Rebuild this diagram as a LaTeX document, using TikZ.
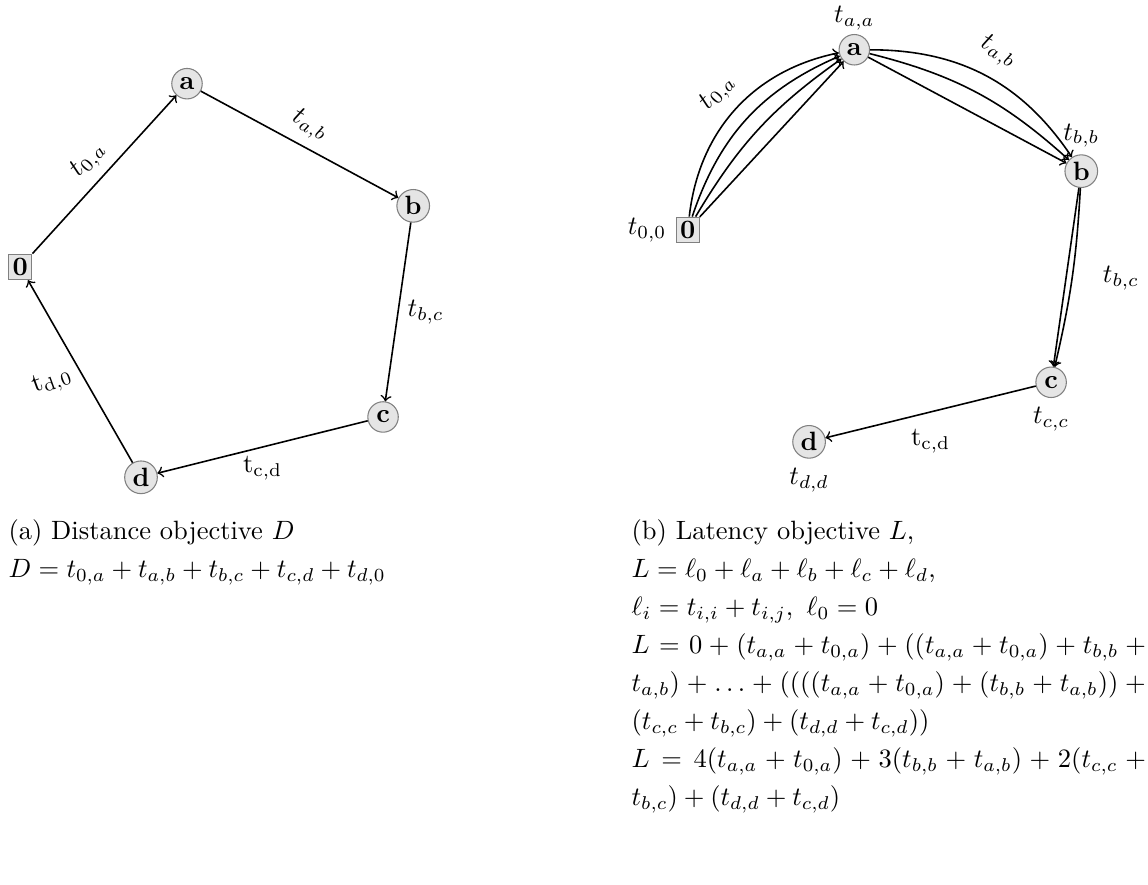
\documentclass[tikz,border=0pt]{standalone}
\usetikzlibrary{positioning}

\begin{document}
\begin{tikzpicture}[
  cust/.style={circle,draw=gray,fill=gray!20,font=\bfseries,inner sep=1pt,minimum size=11.5pt},
  depot/.style={rectangle,draw=gray,fill=gray!20,font=\bfseries,inner sep=1.5pt},
  arr/.style={->,line width=0.6pt},
  captext/.style={anchor=base west,inner sep=0pt,align=justify,font=\setlength{\baselineskip}{14.3pt}}]
  \useasboundingbox (0,0) rectangle (15.225,-11.724);
  % (a) distance
  \node[depot] (o0) at (0.27,-3.54){0};
  \node[cust] (a) at (2.48,-1.11){a};
  \node[cust] (b) at (5.48,-2.73){b};
  \node[cust] (c) at (5.08,-5.53){c};
  \node[cust] (d) at (1.87,-6.33){d};
  \draw[arr] (o0) -- node[midway,sloped,above]{$t_{0,a}$} (a);
  \draw[arr] (a) -- node[midway,sloped,above]{$t_{a,b}$} (b);
  \draw[arr] (b) -- node[midway,right]{$t_{b,c}$} (c);
  \draw[arr] (c) -- node[midway,below]{$\mathrm{t}_{\mathrm{c,d}}$} (d);
  \draw[arr] (d) -- node[midway,left,rotate=20]{$\mathrm{t}_{\mathrm{d,0}}$} (o0);
  % (b) latency
  \node[depot,label=left:$t_{0,0}$] (o0b) at (9.12,-3.05){0};
  \node[cust,label={[label distance=-2pt]above:$t_{a,a}$}] (ab) at (11.33,-0.66){a};
  \node[cust,label={[label distance=-1pt]above:$t_{b,b}$}] (bb) at (14.34,-2.27){b};
  \node[cust,label=below:$t_{c,c}$] (cb) at (13.94,-5.07){c};
  \node[cust,label=below:$t_{d,d}$] (db) at (10.73,-5.86){d};
  \foreach \bb in {0,12,24} \draw[arr] (o0b) to[bend left=\bb] (ab);
  \draw[arr] (o0b) to[bend left=36] node[midway,sloped,above=1pt]{$t_{0,a}$} (ab);
  \foreach \bb in {0,14} \draw[arr] (ab) to[bend left=\bb] (bb);
  \draw[arr] (ab) to[bend left=28] node[midway,sloped,above=2pt]{$t_{a,b}$} (bb);
  \draw[arr] (bb) -- (cb);
  \draw[arr] (bb) to[bend left=5] node[midway,right=8pt]{$t_{b,c}$} (cb);
  \draw[arr] (cb) -- node[midway,below=3pt]{$\mathrm{t}_{\mathrm{c,d}}$} (db);
  % captions
  \node[captext,text width=6.5cm] (capa) at (0.106,-7.16){(a) Distance objective $D$\par
    $D=t_{0,a}+t_{a,b}+t_{b,c}+t_{c,d}+t_{d,0}$};
  \node[captext,text width=6.82cm] (capb) at (8.37,-7.16){(b) Latency objective $L$,\par
    $L=\ell_0+\ell_a+\ell_b+\ell_c+\ell_d$,\par
    $\ell_i=t_{i,i}+t_{i,j},\ \ell_0=0$\par
    $L=0+(t_{a,a}+t_{0,a})+((t_{a,a}+t_{0,a})+t_{b,b}+\linebreak
    t_{a,b})+\ldots+((((t_{a,a}+t_{0,a})+(t_{b,b}+t_{a,b}))+\linebreak
    (t_{c,c}+t_{b,c})+(t_{d,d}+t_{c,d}))$\par
    $L=4(t_{a,a}+t_{0,a})+3(t_{b,b}+t_{a,b})+2(t_{c,c}+\linebreak
    t_{b,c})+(t_{d,d}+t_{c,d})$};
\end{tikzpicture}
\end{document}
